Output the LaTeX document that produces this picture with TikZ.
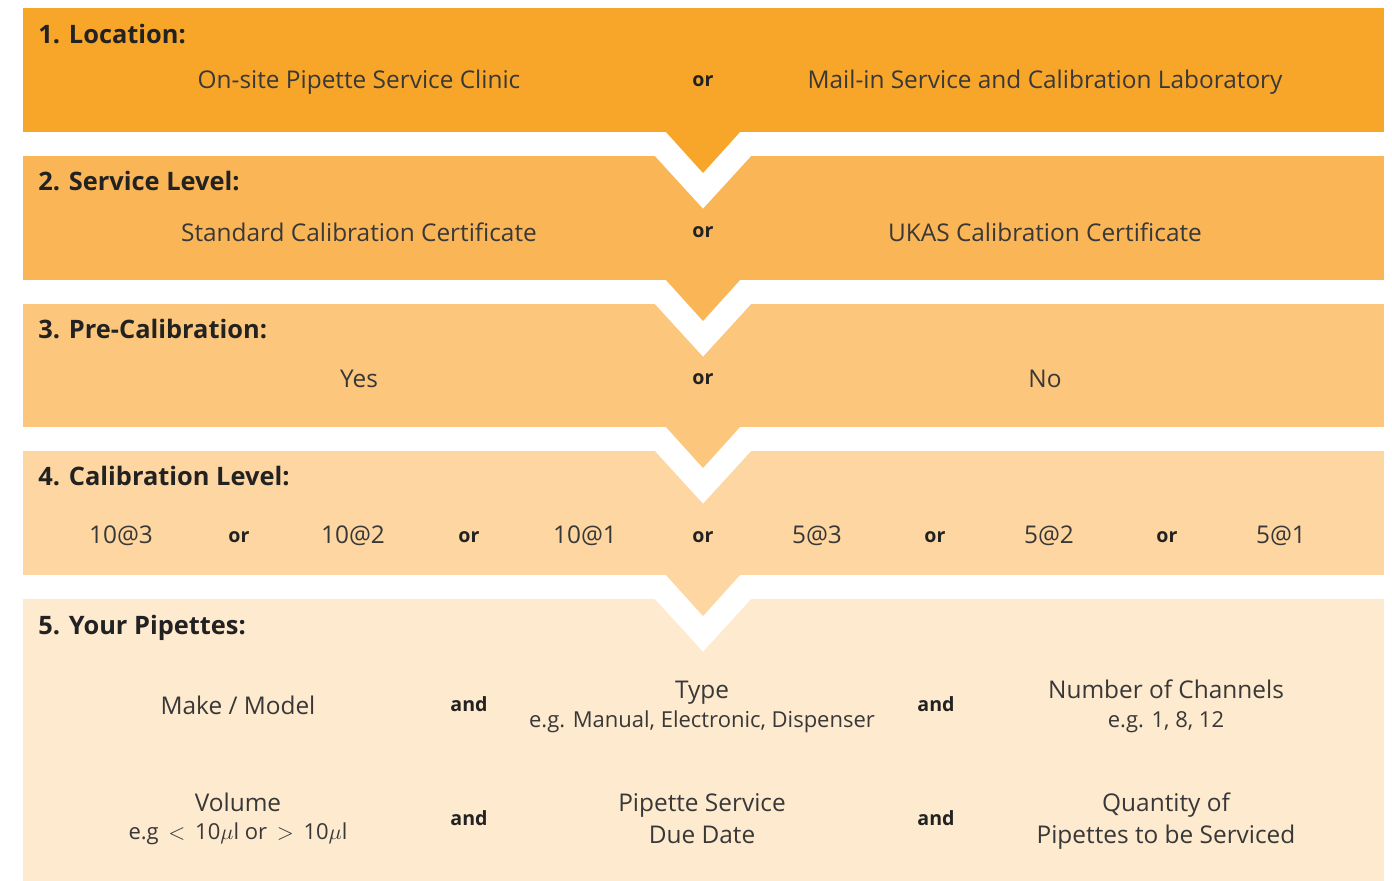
\documentclass[tikz,border=0pt]{standalone}
\usepackage{fontspec}
\setmainfont{Open Sans}
\begin{document}
\begin{tikzpicture}[x=0.5pt,y=-0.5pt]
\definecolor{cA}{HTML}{F8A62A}
\definecolor{cB}{HTML}{FAB556}
\definecolor{cC}{HTML}{FCC67C}
\definecolor{cD}{HTML}{FED6A1}
\definecolor{cE}{HTML}{FEEACE}
\definecolor{txt}{HTML}{383838}
\definecolor{hd}{HTML}{222222}
\tikzset{
 head/.style={anchor=base west, font=\fontsize{12.7}{14}\selectfont\bfseries, text=hd, inner sep=0},
 item/.style={anchor=base, font=\fontsize{12.2}{14}\selectfont, text=txt, inner sep=0},
 conj/.style={anchor=base, font=\fontsize{9.8}{11}\selectfont\bfseries, text=hd, inner sep=0},
 sub/.style={anchor=base, font=\fontsize{11}{13}\selectfont, text=txt, inner sep=0},
}
\useasboundingbox (0,0) rectangle (1392,881);
\fill[cA] (23,8) rectangle (1384,132);
\fill[cB] (23,156) rectangle (1384,280);
\fill[cC] (23,304) rectangle (1384,427);
\fill[cD] (23,451) rectangle (1384,575);
\fill[cE] (23,599) rectangle (1384,881);
\foreach \B/\c in {132/cA,280/cB,427/cC,575/cD}{
  \begin{scope}
    \clip (600,\B+2) rectangle (800,\B+100);
    \draw[white,line width=24pt,line join=miter] (665.5,\B) -- (740.5,\B) -- (703,\B+41) -- cycle;
  \end{scope}
  \fill[\c] (665.5,\B-0.5) -- (740.5,\B-0.5) -- (703,\B+41) -- cycle;
}
% band 1
\node[head] (h1) at (38,44) {1. Location:};
\node[item] (a1) at (359,89) {On-site Pipette Service Clinic};
\node[conj] (o1) at (703,87) {or};
\node[item] (b1) at (1045,89) {Mail-in Service and Calibration Laboratory};
% band 2
\node[head] (h2) at (38,191) {2. Service Level:};
\node[item] (a2) at (359,242) {Standard Calibration Certificate};
\node[conj] (o2) at (703,238) {or};
\node[item] (b2) at (1045,242) {UKAS Calibration Certificate};
% band 3
\node[head] (h3) at (38,339) {3. Pre-Calibration:};
\node[item] (a3) at (359,388) {Yes};
\node[conj] (o3) at (703,385) {or};
\node[item] (b3) at (1045,388) {No};
% band 4
\node[head] (h4) at (38,486) {4. Calibration Level:};
\node[item] (l1) at (121,544) {10@3};
\node[conj] (p1) at (239,543) {or};
\node[item] (l2) at (353,544) {10@2};
\node[conj] (p2) at (469,543) {or};
\node[item] (l3) at (585,544) {10@1};
\node[conj] (p3) at (703,543) {or};
\node[item] (l4) at (817,544) {5@3};
\node[conj] (p4) at (935,543) {or};
\node[item] (l5) at (1049,544) {5@2};
\node[conj] (p5) at (1167,543) {or};
\node[item] (l6) at (1281,544) {5@1};
% band 5
\node[head] (h5) at (38,634) {5. Your Pipettes:};
\node[item] (m1) at (238,714) {Make / Model};
\node[conj] (n1) at (469,711) {and};
\node[item] (t1) at (702,698) {Type};
\node[sub] (t2) at (702,727) {e.g. Manual, Electronic, Dispenser};
\node[conj] (n2) at (936,711) {and};
\node[item] (c1) at (1166,698) {Number of Channels};
\node[sub] (c2) at (1166,727) {e.g. 1, 8, 12};
\node[item] (v1) at (238,811) {Volume};
\node[sub] (v2) at (238,839) {e.g \kern2pt$<$ \kern2pt10$\mu$l or \kern2pt$>$ \kern2pt10$\mu$l};
\node[conj] (n3) at (469,825) {and};
\node[item] (d1) at (702,811) {Pipette Service};
\node[item] (d2) at (702,843) {Due Date};
\node[conj] (n4) at (936,825) {and};
\node[item] (q1) at (1166,811) {Quantity of};
\node[item] (q2) at (1166,843) {Pipettes to be Serviced};
\end{tikzpicture}
\end{document}
